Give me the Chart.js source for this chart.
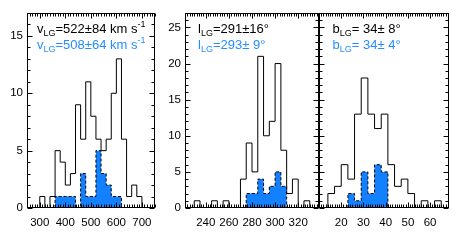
<!DOCTYPE html>
<html>
<head>
<meta charset="utf-8">
<script src="https://cdn.jsdelivr.net/npm/chart.js@4"></script>
<style>
html, body { margin: 0; padding: 0; background: #fff; }
#wrap { position: relative; width: 463px; height: 247px; overflow: hidden; }
canvas { position: absolute; top: 0; }
</style>
</head>
<body>
<div id="wrap">
  <canvas id="cV" width="160" height="247" style="left:0px"></canvas>
  <canvas id="cL" width="160" height="247" style="left:160px"></canvas>
  <canvas id="cB" width="153" height="247" style="left:310px"></canvas>
</div>
<script>
// v_LG histogram, 20 km/s bins (left edges)
const vBins = [300, 320, 340, 360, 380, 400, 420, 440, 460, 480, 500, 520, 540, 560, 580, 600, 620, 640, 660, 680];
const vAll  = [1, 0, 1, 5, 4, 2, 3, 9, 6, 11, 8, 6, 5, 6, 10, 13, 6, 1, 2, 1];
const vSub  = [0, 0, 0, 1, 1, 1, 1, 0, 3, 1, 1, 5, 3, 2, 1, 1, 0, 0, 0, 0];

// l_LG histogram, 5 deg bins
const lBins = [230, 235, 240, 245, 250, 255, 260, 265, 270, 275, 280, 285, 290, 295, 300, 305, 310, 315, 320, 325];
const lAll  = [1, 0, 0, 1, 0, 1, 0, 0, 4, 9, 5, 21, 10, 12, 20, 8, 2, 4, 0, 1];
const lSub  = [0, 0, 0, 0, 0, 0, 0, 0, 0, 2, 2, 4, 2, 3, 5, 3, 0, 0, 0, 0];

// b_LG histogram, 3 deg bins
const bBins = [14, 17, 20, 23, 26, 29, 32, 35, 38, 41, 44, 47, 50, 53, 56, 59, 62];
const bAll  = [2, 3, 6, 4, 13, 18, 13, 11, 13, 6, 3, 4, 2, 0, 1, 0, 1];
const bSub  = [0, 0, 0, 2, 1, 5, 2, 6, 5, 0, 0, 0, 0, 0, 0, 0, 0];

const vTicks = [300, 400, 500, 600, 700];
const lTicks = [240, 260, 280, 300, 320];
const bTicks = [20, 30, 40, 50, 60];
const countTicksV = [0, 5, 10, 15];
const countTicksLB = [0, 5, 10, 15, 20, 25];

const BLUE = "rgb(18,128,255)";
const TEXT_BLUE = "rgb(36,142,255)";
const FONT = "'Liberation Sans', Arial, sans-serif";

// bins + counts -> points for a stepped outline, trimmed to the non-empty range
function stepPoints(bins, counts, width) {
    const first = counts.findIndex(c => c > 0);
    let last = counts.length - 1;
    while (last > 0 && counts[last] === 0) last--;
    const pts = [{ x: bins[first], y: 0 }];
    for (let i = first; i <= last; i++) pts.push({ x: bins[i], y: counts[i] });
    pts.push({ x: bins[last] + width, y: 0 });
    return pts;
}

function drawNote(ctx, x, y, parts, color) {
    ctx.fillStyle = color;
    ctx.textBaseline = "alphabetic";
    ctx.textAlign = "left";
    for (const [txt, kind] of parts) {
        const small = kind !== "n";
        ctx.font = (small ? "9px " : "13px ") + FONT;
        const dy = kind === "sub" ? 3 : kind === "sup" ? -6 : 0;
        ctx.fillText(txt, x, y + dy);
        x += ctx.measureText(txt).width;
    }
}

// box, inward ticks (major + minor) and the two text lines
function framePlugin(o) {
    return {
        id: "frame",
        afterDraw(chart) {
            const { ctx, chartArea: a } = chart;
            const xs = chart.scales.x, ys = chart.scales.y;
            const L = Math.round(a.left) + 0.5, R = Math.round(a.right) - 0.5;
            const T = Math.round(a.top) + 0.5, B = Math.round(a.bottom) - 0.5;
            ctx.save();
            ctx.strokeStyle = "#000";
            ctx.lineWidth = 1;
            ctx.beginPath();
            for (let i = Math.ceil(xs.min / o.xMinor); i * o.xMinor <= xs.max; i++) {
                const v = i * o.xMinor;
                const len = o.xTicks.includes(v) ? 5 : 3;
                const px = Math.round(xs.getPixelForValue(v)) + 0.5;
                ctx.moveTo(px, B); ctx.lineTo(px, B - len);
                ctx.moveTo(px, T); ctx.lineTo(px, T + len);
            }
            for (let v = 0; v <= ys.max; v++) {
                const len = o.yTicks.includes(v) ? 5 : 3;
                const py = Math.round(ys.getPixelForValue(v)) + 0.5;
                ctx.moveTo(L, py); ctx.lineTo(L + len, py);
                ctx.moveTo(R, py); ctx.lineTo(R - len, py);
            }
            ctx.stroke();
            ctx.strokeRect(L, T, R - L, B - T);
            drawNote(ctx, a.left + o.noteDx, 33, o.note1, "#000");
            drawNote(ctx, a.left + o.noteDx, 48.5, o.note2, TEXT_BLUE);
            ctx.restore();
        }
    };
}

function makeChart(id, o) {
    return new Chart(document.getElementById(id), {
        type: "line",
        data: {
            datasets: [
                {
                    data: stepPoints(o.bins, o.sub, o.width),
                    stepped: "before",
                    borderColor: "#000",
                    borderWidth: 1,
                    borderDash: [3, 2],
                    backgroundColor: BLUE,
                    fill: "origin",
                    pointRadius: 0,
                },
                {
                    data: stepPoints(o.bins, o.all, o.width),
                    stepped: "before",
                    borderColor: "#000",
                    borderWidth: 1,
                    fill: false,
                    pointRadius: 0,
                },
            ],
        },
        options: {
            responsive: false,
            animation: false,
            devicePixelRatio: 1,
            layout: { padding: o.padding },
            plugins: { legend: { display: false }, tooltip: { enabled: false } },
            scales: {
                x: {
                    type: "linear",
                    min: o.xMin,
                    max: o.xMax,
                    grid: { display: false, drawTicks: false },
                    border: { display: false },
                    ticks: { color: "#000", font: { family: FONT, size: 11.5 }, padding: 8, maxRotation: 0, autoSkip: false },
                    afterBuildTicks: s => { s.ticks = o.xTicks.map(v => ({ value: v })); },
                    afterFit: s => { s.height = 39; },
                },
                y: {
                    type: "linear",
                    min: 0,
                    max: o.yMax,
                    grid: { display: false, drawTicks: false },
                    border: { display: false },
                    ticks: { display: o.yLabels, color: "#000", font: { family: FONT, size: 11.5 }, padding: 4 },
                    afterBuildTicks: s => { s.ticks = o.yTicks.map(v => ({ value: v })); },
                    afterFit: s => { s.width = o.yWidth; },
                },
            },
        },
        plugins: [framePlugin(o)],
    });
}

makeChart("cV", {
    bins: vBins, all: vAll, sub: vSub, width: 20,
    xMin: 250, xMax: 750, xTicks: vTicks, xMinor: 10,
    yMax: 17, yTicks: countTicksV, yLabels: true, yWidth: 27,
    padding: { left: 0, right: 5, top: 13, bottom: 0 },
    noteDx: 10,
    note1: [["v", "n"], ["LG", "sub"], ["=522\u00b184 km s", "n"], ["-1", "sup"]],
    note2: [["v", "n"], ["LG", "sub"], ["=508\u00b164 km s", "n"], ["-1", "sup"]],
});

makeChart("cL", {
    bins: lBins, all: lAll, sub: lSub, width: 5,
    xMin: 222, xMax: 338, xTicks: lTicks, xMinor: 2,
    yMax: 27, yTicks: countTicksLB, yLabels: true, yWidth: 25,
    padding: { left: 0, right: 1, top: 13, bottom: 0 },
    noteDx: 13,
    note1: [["l", "n"], ["LG", "sub"], ["=291\u00b116\u00b0", "n"]],
    note2: [["l", "n"], ["LG", "sub"], ["=293\u00b1 9\u00b0", "n"]],
});

makeChart("cB", {
    bins: bBins, all: bAll, sub: bSub, width: 3,
    xMin: 10, xMax: 68.5, xTicks: bTicks, xMinor: 1,
    yMax: 27, yTicks: countTicksLB, yLabels: false, yWidth: 9,
    padding: { left: 0, right: 14, top: 13, bottom: 0 },
    noteDx: 13.5,
    note1: [["b", "n"], ["LG", "sub"], ["= 34\u00b1 8\u00b0", "n"]],
    note2: [["b", "n"], ["LG", "sub"], ["= 34\u00b1 4\u00b0", "n"]],
});
</script>
</body>
</html>
